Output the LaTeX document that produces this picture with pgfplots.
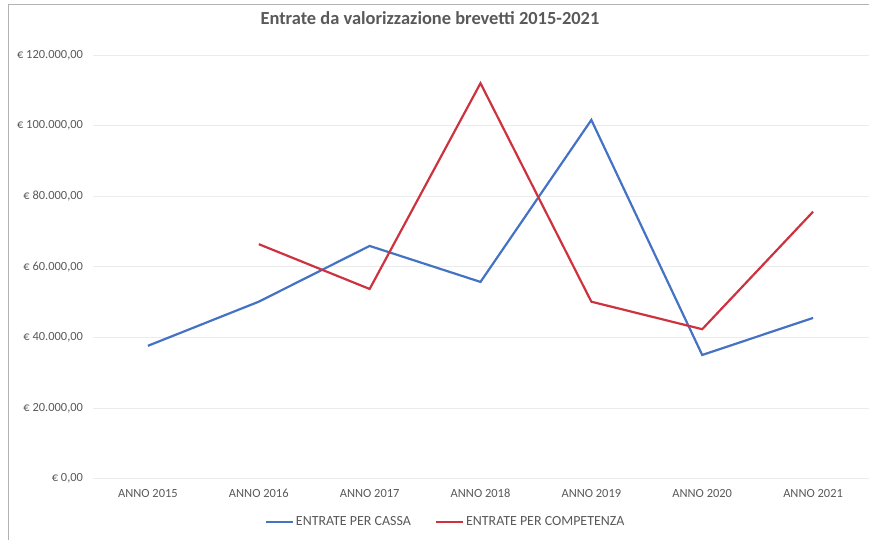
\documentclass[border=0pt]{standalone}
\usepackage{pgfplots}
\pgfplotsset{compat=1.18}
\usepackage{fontspec}
\setmainfont{Carlito}
\definecolor{cassa}{RGB}{68,114,196}
\definecolor{comp}{RGB}{204,51,63}
\definecolor{txt}{RGB}{89,89,89}
\definecolor{grid}{RGB}{236,236,236}
\begin{document}
\begin{tikzpicture}
    \path[use as bounding box] (0,0) rectangle (869bp,540bp);
    \draw[gray!60, line width=0.8bp] (8bp,0) -- (8bp,536bp) -- (869bp,536bp);
    \node[text=txt, font=\fontsize{18.5}{20}\selectfont\bfseries] at (430bp,522bp)
        {Entrate da valorizzazione brevetti 2015-2021};
    \begin{axis}[
        at                = {(92.5bp,61.5bp)},
        anchor            = south west,
        scale only axis,
        width             = 776bp,
        height            = 423.5bp,
        xmin = -0.5, xmax = 6.5,
        ymin = 0, ymax = 120000,
        scaled y ticks    = false,
        axis line style   = {draw=none},
        major tick length = 0pt,
        xtick             = {0,...,6},
        xticklabels       = {ANNO 2015, ANNO 2016, ANNO 2017, ANNO 2018,
                             ANNO 2019, ANNO 2020, ANNO 2021},
        ytick             = {0,20000,...,120000},
        yticklabels       = {{€ 0,00},{€ 20.000,00},{€ 40.000,00},{€ 60.000,00},
                             {€ 80.000,00},{€ 100.000,00},{€ 120.000,00}},
        ticklabel style   = {text=txt, font=\fontsize{12.5}{14}\selectfont},
        xticklabel style  = {yshift=-7bp},
        yticklabel style  = {xshift=-6bp},
        ymajorgrids,
        grid style        = {draw=grid, line width=0.8bp},
        legend columns    = 2,
        legend style      = {draw=none, at={(0.455,-0.103)}, anchor=center,
                             font=\fontsize{14}{16}\selectfont, text=txt,
                             /tikz/every even column/.append style={column sep=22bp}},
        legend image code/.code = {\draw[#1, line width=2.2bp] (0bp,0bp) -- (27bp,0bp);},
        every axis plot/.append style = {line width=2.2bp, mark=none}
    ]
        \addplot[cassa] coordinates {
            (0,37600) (1,50100) (2,65900) (3,55700) (4,101600) (5,35000) (6,45500)
        };
        \addlegendentry{ENTRATE PER CASSA}
        \addplot[comp] coordinates {
            (1,66400) (2,53700) (3,112000) (4,50100) (5,42300) (6,75600)
        };
        \addlegendentry{ENTRATE PER COMPETENZA}
    \end{axis}
\end{tikzpicture}
\end{document}
